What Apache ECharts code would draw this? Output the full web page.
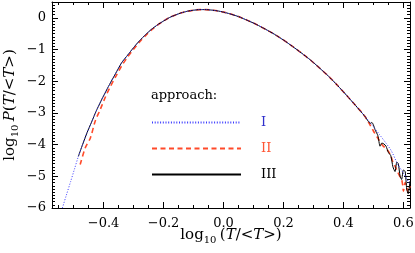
<!DOCTYPE html>
<html><head><meta charset="utf-8">
<script src="https://cdn.jsdelivr.net/npm/echarts@6/dist/echarts.min.js"></script>
<style>html,body{margin:0;padding:0;background:#fff}#c{width:415px;height:253px}</style>
</head><body><div id="c"></div>
<script>
// ---- data ----
const xTicks = [-0.4, -0.2, 0.0, 0.2, 0.4, 0.6];
const yTicks = [-6, -5, -4, -3, -2, -1, 0];

const xIII = [-0.484,-0.47,-0.455,-0.44,-0.425,-0.41,-0.395,-0.38,-0.36,-0.34,-0.32,-0.30,-0.28,-0.26,-0.24,-0.22,-0.20,-0.18,-0.16,-0.14,-0.12,-0.10,-0.08,-0.06,-0.04,-0.02,0.00,0.02,0.05,0.08,0.11,0.14,0.17,0.20,0.23,0.26,0.29,0.32,0.35,0.38,0.41,0.44,0.47,0.49,0.495,0.50,0.505,0.515,0.522,0.528,0.535,0.542,0.55,0.558,0.565,0.572,0.578,0.583,0.589,0.594,0.600,0.606,0.611,0.616,0.622];
const yIII = [-4.37,-4.00,-3.62,-3.29,-2.95,-2.65,-2.37,-2.10,-1.76,-1.42,-1.18,-0.94,-0.72,-0.53,-0.36,-0.22,-0.10,0.01,0.09,0.16,0.21,0.24,0.26,0.26,0.245,0.22,0.18,0.13,0.04,-0.08,-0.21,-0.36,-0.52,-0.70,-0.90,-1.11,-1.33,-1.58,-1.84,-2.13,-2.44,-2.76,-3.09,-3.33,-3.30,-3.38,-3.52,-3.72,-4.05,-3.95,-3.98,-4.05,-4.25,-4.35,-4.70,-4.85,-4.55,-4.60,-5.00,-5.10,-4.80,-4.85,-5.40,-5.55,-5.15];

const xI = [-0.54,-0.525,-0.51,-0.497,-0.484,-0.47,-0.455,-0.44,-0.425,-0.41,-0.395,-0.38,-0.36,-0.34,-0.32,-0.30,-0.28,-0.26,-0.24,-0.22,-0.20,-0.18,-0.16,-0.14,-0.12,-0.10,-0.08,-0.06,-0.04,-0.02,0.00,0.02,0.05,0.08,0.11,0.14,0.17,0.20,0.23,0.26,0.29,0.32,0.35,0.38,0.41,0.44,0.47,0.50,0.52,0.54,0.56,0.58,0.60,0.622];
const yI = [-6.08,-5.62,-5.17,-4.77,-4.37,-4.00,-3.62,-3.29,-2.95,-2.65,-2.37,-2.10,-1.76,-1.42,-1.18,-0.94,-0.72,-0.53,-0.36,-0.22,-0.10,0.01,0.09,0.16,0.21,0.24,0.26,0.26,0.245,0.22,0.18,0.13,0.04,-0.08,-0.21,-0.36,-0.52,-0.70,-0.90,-1.11,-1.33,-1.58,-1.84,-2.13,-2.44,-2.76,-3.09,-3.43,-3.68,-3.93,-4.20,-4.60,-4.90,-5.26];

const xII = [-0.478,-0.461,-0.444,-0.428,-0.411,-0.395,-0.38,-0.36,-0.34,-0.32,-0.30,-0.28,-0.26,-0.24,-0.22,-0.20,-0.18,-0.16,-0.14,-0.12,-0.10,-0.08,-0.06,-0.04,-0.02,0.00,0.02,0.05,0.08,0.11,0.14,0.17,0.20,0.23,0.26,0.29,0.32,0.35,0.38,0.41,0.44,0.47,0.49,0.50,0.515,0.53,0.545,0.556,0.565,0.572,0.58,0.588,0.594,0.598,0.60,0.606,0.611,0.616,0.622];
const yII = [-4.63,-4.10,-3.79,-3.26,-2.89,-2.52,-2.22,-1.86,-1.52,-1.24,-0.99,-0.76,-0.56,-0.38,-0.23,-0.10,0.01,0.09,0.16,0.21,0.24,0.26,0.26,0.245,0.22,0.18,0.13,0.04,-0.08,-0.21,-0.36,-0.52,-0.70,-0.90,-1.11,-1.33,-1.58,-1.84,-2.13,-2.44,-2.76,-3.09,-3.40,-3.57,-3.80,-4.02,-4.15,-4.31,-4.55,-4.68,-4.85,-5.00,-5.10,-5.30,-5.47,-5.20,-5.35,-5.50,-5.31];

const X_MIN = -0.572, X_MAX = 0.622, Y_MIN = -6, Y_MAX = 0.5;

// minor tick positions
const xMinor = []; for (let k = -11; k <= 12; k++) xMinor.push(+(k * 0.05).toFixed(2));
const yMinor = []; for (let k = -60; k <= 5; k++) yMinor.push(+(k * 0.1).toFixed(1));

const zip = (a, b) => a.map((v, i) => [v, b[i]]);
const FONT = 'DejaVu Serif';
const minus = s => s.replace('-', '\u2212');

const baseX = (pos, major, label) => ({
  type: 'value', position: pos, min: X_MIN, max: X_MAX,
  axisLine: { show: major, onZero: false, lineStyle: { color: '#000', width: 1 } },
  axisTick: { show: true, inside: true, length: major ? 6 : 3, customValues: major ? xTicks : xMinor, lineStyle: { color: '#000', width: 1 } },
  axisLabel: label ? { show: true, customValues: xTicks, margin: 9, color: '#000', fontFamily: FONT, fontSize: 13,
    formatter: v => minus(v.toFixed(1)) } : { show: false },
  splitLine: { show: false }
});
const baseY = (pos, major, label) => ({
  type: 'value', position: pos, min: Y_MIN, max: Y_MAX,
  axisLine: { show: major, onZero: false, lineStyle: { color: '#000', width: 1 } },
  axisTick: { show: true, inside: true, length: major ? 6 : 3, customValues: major ? yTicks : yMinor, lineStyle: { color: '#000', width: 1 } },
  axisLabel: label ? { show: true, customValues: yTicks, margin: 6, color: '#000', fontFamily: FONT, fontSize: 13,
    formatter: v => minus(String(v)) } : { show: false },
  splitLine: { show: false }
});

const rich = {
  t: { fontFamily: FONT, fontSize: 15, color: '#000', verticalAlign: 'middle', lineHeight: 20 },
  i: { fontFamily: FONT, fontSize: 15, fontStyle: 'italic', color: '#000', verticalAlign: 'middle', lineHeight: 20 },
  s: { fontFamily: FONT, fontSize: 10, color: '#000', verticalAlign: 'bottom', lineHeight: 20 }
};

const xa = [baseX('bottom', true, true), baseX('bottom', false, false), baseX('top', true, false), baseX('top', false, false)];
xa[0].name = '{t|log}{s|10} {t|(}{i|T}{t|/<}{i|T}{t|>)}';
xa[0].nameLocation = 'middle'; xa[0].nameGap = 17; xa[0].nameMoveOverlap = false; xa[0].nameTextStyle = { rich };
const ya = [baseY('left', true, true), baseY('left', false, false), baseY('right', true, false), baseY('right', false, false)];
ya[0].name = '{t|log}{s|10} {i|P}{t|(}{i|T}{t|/<}{i|T}{t|>)}';
ya[0].nameLocation = 'middle'; ya[0].nameGap = 32; ya[0].nameMoveOverlap = false; ya[0].nameTextStyle = { rich };

const chart = echarts.init(document.getElementById('c'), null, { renderer: 'canvas' });
chart.setOption({
  animation: false,
  backgroundColor: '#fff',
  grid: { left: 52, right: 5, top: 2, bottom: 45, containLabel: false, outerBoundsMode: 'none' },
  title: { text: 'approach:', left: 151, top: 89, padding: 0,
    textStyle: { fontFamily: FONT, fontSize: 13, fontWeight: 'normal', color: '#000' } },
  legend: {
    orient: 'vertical', left: 151, top: 116, itemWidth: 89, itemHeight: 14, itemGap: 13,
    padding: 0,
    itemStyle: { opacity: 0, borderWidth: 0 },
    data: [
      { name: 'I', textStyle: { color: '#3030cc' } },
      { name: 'II', textStyle: { color: '#ff5533' } },
      { name: 'III', textStyle: { color: '#000' } }
    ],
    textStyle: { fontFamily: FONT, fontSize: 13, padding: [0, 0, 0, 15] },
    selectedMode: false
  },
  xAxis: xa,
  yAxis: ya,
  series: [
    { name: 'II', type: 'line', data: zip(xII, yII), showSymbol: false, symbol: 'none', smooth: 0.3,
      lineStyle: { color: '#ff4a2a', width: 1.6, type: [5, 3.5] }, itemStyle: { color: '#ff4a2a' } },
    { name: 'III', type: 'line', data: zip(xIII, yIII), showSymbol: false, symbol: 'none', smooth: 0.2,
      lineStyle: { color: '#000', width: 1 }, itemStyle: { color: '#000' } },
    { name: 'I', type: 'line', data: zip(xI, yI), showSymbol: false, symbol: 'none', smooth: 0.3,
      lineStyle: { color: '#3a3aff', width: 1, type: [1, 1.7] }, itemStyle: { color: '#3a3aff' } }
  ]
});
</script></body></html>
